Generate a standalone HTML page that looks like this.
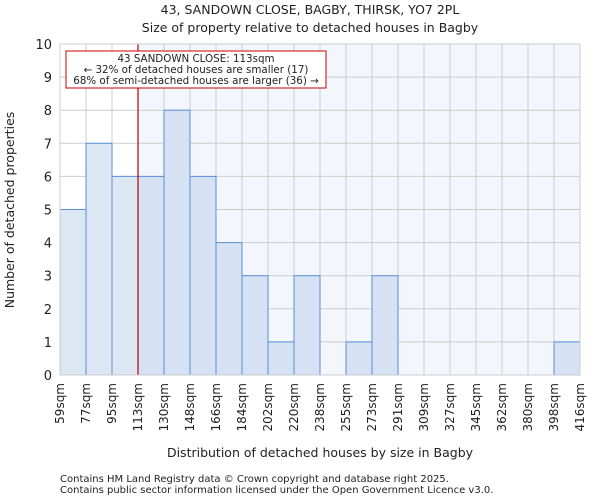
<!DOCTYPE html>
<html><head><meta charset="utf-8"><style>
body{margin:0;background:#fff;font-family:"DejaVu Sans","Liberation Sans",sans-serif;}
svg text{font-family:"DejaVu Sans","Liberation Sans",sans-serif;fill:#222;}
</style></head><body>
<svg id="chart" width="600" height="500" viewBox="0 0 600 500" xmlns="http://www.w3.org/2000/svg">
<text x="310" y="14" font-size="12.5" text-anchor="middle">43, SANDOWN CLOSE, BAGBY, THIRSK, YO7 2PL</text>
<text x="310" y="32" font-size="12.5" text-anchor="middle">Size of property relative to detached houses in Bagby</text>
<g id="plot"></g>
<text x="320" y="457" font-size="12.5" text-anchor="middle">Distribution of detached houses by size in Bagby</text>
<text x="14" y="210" font-size="12.5" text-anchor="middle" transform="rotate(-90 14 210)">Number of detached properties</text>
<text x="60" y="482" font-size="10">Contains HM Land Registry data © Crown copyright and database right 2025.</text>
<text x="60" y="493" font-size="10">Contains public sector information licensed under the Open Government Licence v3.0.</text>
</svg>
<script>
const binLabels=["59sqm","77sqm","95sqm","113sqm","130sqm","148sqm","166sqm","184sqm","202sqm","220sqm","238sqm","255sqm","273sqm","291sqm","309sqm","327sqm","345sqm","362sqm","380sqm","398sqm","416sqm"];
const counts=[5,7,6,6,8,6,4,3,1,3,0,1,3,0,0,0,0,0,0,1];
const yTicks=[0,1,2,3,4,5,6,7,8,9,10];
const markerIndex=3;
const NS="http://www.w3.org/2000/svg";
const L=60,R=580,T=44,B=375,yMax=10;
const bw=(R-L)/counts.length;
const xs=i=>L+i*bw;
const ys=v=>B-(v/yMax)*(B-T);
const g=document.getElementById('plot');
function mk(t,a){const e=document.createElementNS(NS,t);for(const k in a)e.setAttribute(k,a[k]);g.appendChild(e);return e;}
const mx=xs(markerIndex);
let e=mk('rect',{x:L,y:T,width:R-L,height:B-T,fill:'#fff'});


e=mk('rect',{x:mx,y:T,width:R-mx,height:B-T,fill:'#f3f6fd'});


yTicks.forEach(v=>{
 const l=mk('line',{x1:L,x2:R,y1:ys(v),y2:ys(v),stroke:'#ccc','stroke-width':1});
 
 
 const t=mk('text',{x:L-8,y:ys(v)+5,'font-size':13,'text-anchor':'end'});t.textContent=v;
 
 
});
binLabels.forEach((s,i)=>{
 const l=mk('line',{x1:xs(i),x2:xs(i),y1:T,y2:B,stroke:'#ccc','stroke-width':1});
 
 
 const x=xs(i)+4,y=B+8;
 const t=mk('text',{x:x,y:y,'font-size':12,'text-anchor':'end',transform:`rotate(-90 ${x} ${y})`});t.textContent=s;
 
 
});
counts.forEach((c,i)=>{
 if(c<=0)return;
 const r=mk('rect',{x:xs(i),y:ys(c),width:bw,height:B-ys(c),fill:i<markerIndex?'#dde6f3':'#d6e2f3',stroke:'#5b8fd6','stroke-width':1});
 
 
});
e=mk('line',{x1:mx,x2:mx,y1:T,y2:B,stroke:'#b00','stroke-width':1.2});


e=mk('rect',{x:66,y:51,width:260,height:37,fill:'#fff',stroke:'#c00','stroke-width':1});


["43 SANDOWN CLOSE: 113sqm","← 32% of detached houses are smaller (17)","68% of semi-detached houses are larger (36) →"].forEach((s,k)=>{
 const t=mk('text',{x:196,y:62+k*11,'font-size':10.3,'text-anchor':'middle'});t.textContent=s;
 
 
});
e=mk('rect',{x:L,y:T,width:R-L,height:B-T,fill:'none',stroke:'#ccc'});


</script>
</body></html>
